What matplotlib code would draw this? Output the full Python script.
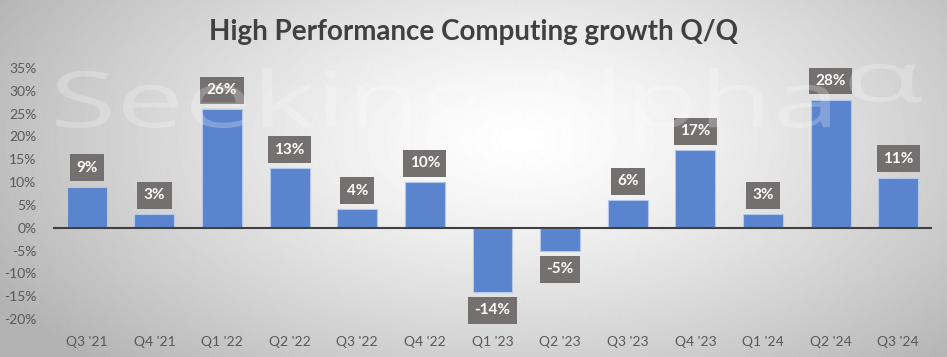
import numpy as np
import matplotlib.pyplot as plt
from matplotlib.ticker import FuncFormatter
from matplotlib.textpath import TextPath
from matplotlib.patches import PathPatch
from matplotlib.font_manager import FontProperties
from matplotlib.transforms import Affine2D

# data
quarters = ["Q3 '21", "Q4 '21", "Q1 '22", "Q2 '22", "Q3 '22", "Q4 '22", "Q1 '23",
            "Q2 '23", "Q3 '23", "Q4 '23", "Q1 '24", "Q2 '24", "Q3 '24"]
growth = [9, 3, 26, 13, 4, 10, -14, -5, 6, 17, 3, 28, 11]

plt.rcParams['font.family'] = ['Lato', 'DejaVu Sans']

W, H = 947, 357
fig = plt.figure(figsize=(W / 100, H / 100), dpi=100)

# radial gradient background
bg = fig.add_axes([0, 0, 1, 1], zorder=-10)
yy, xx = np.mgrid[0:H, 0:W]
d = np.sqrt(((xx - 520) / 600.0) ** 2 + ((yy - 140) / 320.0) ** 2)
shade = np.clip(1.0 - 0.30 * d ** 1.3, 0.70, 1.0)
bg.imshow(shade, cmap='gray', vmin=0, vmax=1, aspect='auto', extent=[0, 1, 0, 1], origin='upper')
bg.axis('off')

ax = fig.add_axes([53 / W, 1 - 319 / H, (932 - 53) / W, (319 - 68) / H])
ax.patch.set_alpha(0)

x = np.arange(len(quarters))
ax.bar(x, growth, width=0.59, color='#5a84cd', edgecolor='#b4c8ec', linewidth=0.8, zorder=2)

for xi, v in zip(x, growth):
    if v >= 0:
        ax.text(xi, v + 2.6, f'{v}%', ha='center', va='bottom', fontsize=11, fontweight='bold',
                color='white', zorder=4,
                bbox=dict(boxstyle='square,pad=0.42', fc='#747070', ec='none'))
    else:
        ax.text(xi, v - 2.6, f'{v}%', ha='center', va='top', fontsize=11, fontweight='bold',
                color='white', zorder=4,
                bbox=dict(boxstyle='square,pad=0.42', fc='#747070', ec='none'))

ax.axhline(0, color='#404040', linewidth=1.5, zorder=3)
ax.set_xlim(-0.5, len(quarters) - 0.5)
ax.set_ylim(-20, 35)
ax.set_yticks(range(-20, 36, 5))
ax.yaxis.set_major_formatter(FuncFormatter(lambda v, p: f'{v:.0f}%'))
ax.set_xticks(x)
ax.set_xticklabels(quarters)
ax.tick_params(axis='both', length=0, labelsize=10, colors='#595959')
ax.tick_params(axis='y', pad=12)
ax.tick_params(axis='x', pad=12)
for s in ax.spines.values():
    s.set_visible(False)

fig.text(0.5, 0.91, 'High Performance Computing growth Q/Q', ha='center', va='center',
         fontsize=20, fontweight='bold', color='#404040')

# watermark drawn over everything, stretched to the logo's size
wm = fig.add_axes([0, 0, 1, 1], zorder=20)
wm.set_xlim(0, W)
wm.set_ylim(H, 0)
wm.axis('off')
fp = FontProperties(family='Open Sans')
tp = TextPath((0, 0), 'Seeking Alpha', size=100, prop=fp)
v = tp.vertices
y0, y1 = v[:, 1].min(), v[:, 1].max()
x0, x1 = v[:, 0].min(), v[:, 0].max()
sx = 780 / (x1 - x0)
sy = 78 / (y1 - y0)
tr = Affine2D().translate(-x0, -y0).scale(sx, -sy).translate(50, 146)
wm.add_patch(PathPatch(tr.transform_path(tp), fc='white', ec='none', alpha=0.24))
ap = TextPath((0, 0), '\u03b1', size=100, prop=fp)
av = ap.vertices
tr2 = (Affine2D().translate(-av[:, 0].min(), -av[:, 1].min())
       .scale(80 / np.ptp(av[:, 0]), -38 / np.ptp(av[:, 1])).translate(842, 102))
wm.add_patch(PathPatch(tr2.transform_path(ap), fc='white', ec='none', alpha=0.24))

fig.savefig('out.png', dpi=100)
